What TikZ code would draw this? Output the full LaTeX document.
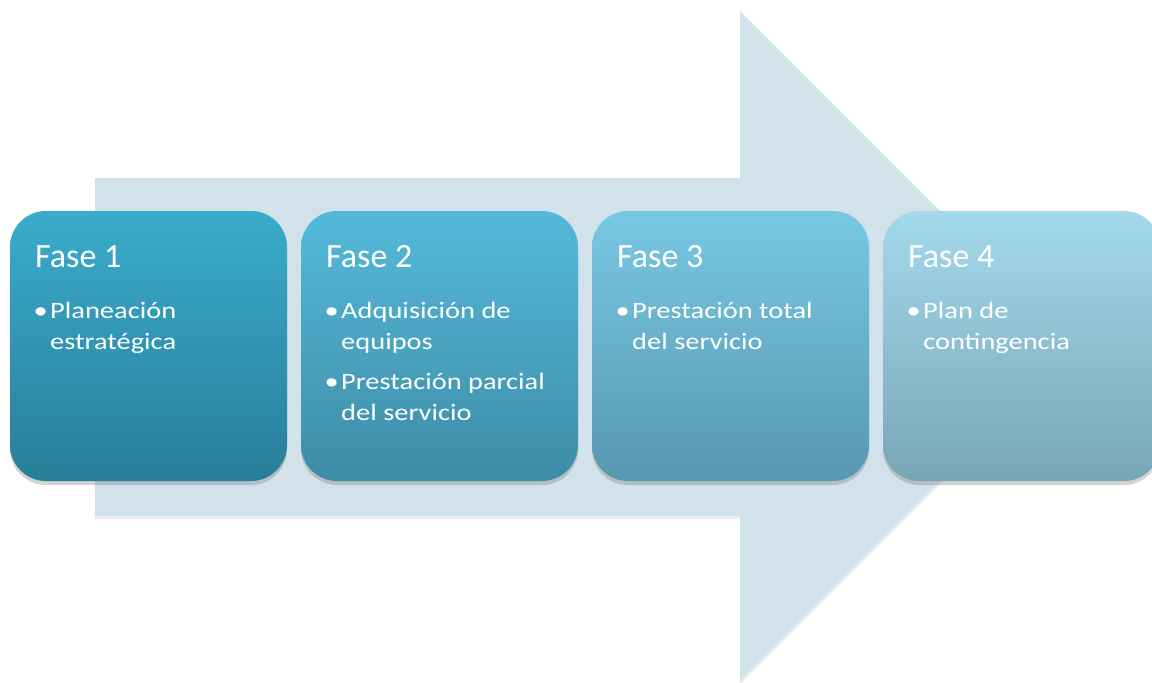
\documentclass[tikz,border=0pt]{standalone}
\usepackage{fontspec}
\setmainfont{Carlito}
\usepackage{tikz}
\usetikzlibrary{shadows, positioning}
\definecolor{fondo}{RGB}{209,226,234}
\definecolor{f1top}{RGB}{58,172,204}
\definecolor{f1bot}{RGB}{40,126,152}
\definecolor{f2top}{RGB}{84,186,218}
\definecolor{f2bot}{RGB}{62,140,166}
\definecolor{f3top}{RGB}{120,200,227}
\definecolor{f3bot}{RGB}{88,152,176}
\definecolor{f4top}{RGB}{164,217,236}
\definecolor{f4bot}{RGB}{120,166,183}
\tikzset{
    fase/.style ={rectangle, rounded corners=36pt, minimum width=277pt,
                  minimum height=270pt, inner sep=0pt,
                  drop shadow={shadow xshift=0pt, shadow yshift=-4pt, opacity=0.35}},
    titulo/.style ={anchor=base west, inner sep=0pt, text=white,
                    font=\fontsize{34}{40}\selectfont},
    lista/.style ={anchor=north west, inner sep=0pt, text=white, align=flush left,
                   xscale=1.21, transform shape,
                   text width=200pt, font=\fontsize{23.5}{31}\selectfont}
    }
\newcommand{\vineta}{\leavevmode\rule{0pt}{24pt}\llap{\textbullet\hspace{2pt}}}

\begin{document}
\begin{tikzpicture}[
      x = 1pt, y = -1pt % pixel grid, y down
    ]
    \useasboundingbox (0,0) rectangle (1152,683);

    % big arrow behind the phases
    \fill[fondo, drop shadow={shadow xshift=0pt, shadow yshift=-3pt, opacity=0.15}]
        (95,178) -- (740,178) -- (740,11) -- (1075,346)
        -- (740,681) -- (740,516) -- (95,516) -- cycle;

    \node[fase, top color=f1top, bottom color=f1bot] (f1) at (148.5,346) {};
    \node[fase, top color=f2top, bottom color=f2bot] (f2) at (439.5,346) {};
    \node[fase, top color=f3top, bottom color=f3bot] (f3) at (730.5,346) {};
    \node[fase, top color=f4top, bottom color=f4bot] (f4) at (1021.5,346) {};

    \node[titulo] (t1) at (35,267) {Fase 1};
    \node[titulo] (t2) at (326,267) {Fase 2};
    \node[titulo] (t3) at (617,267) {Fase 3};
    \node[titulo] (t4) at (908,267) {Fase 4};

    \node[lista] (l1) at (50,294) {\vineta Planeación\\estratégica};
    \node[lista] (l2) at (341,294) {\vineta Adquisición de\\equipos\\[9pt]
                                    \vineta Prestación parcial\\del servicio};
    \node[lista] (l3) at (632,294) {\vineta Prestación total\\del servicio};
    \node[lista] (l4) at (923,294) {\vineta Plan de\\contingencia};
\end{tikzpicture}
\end{document}
